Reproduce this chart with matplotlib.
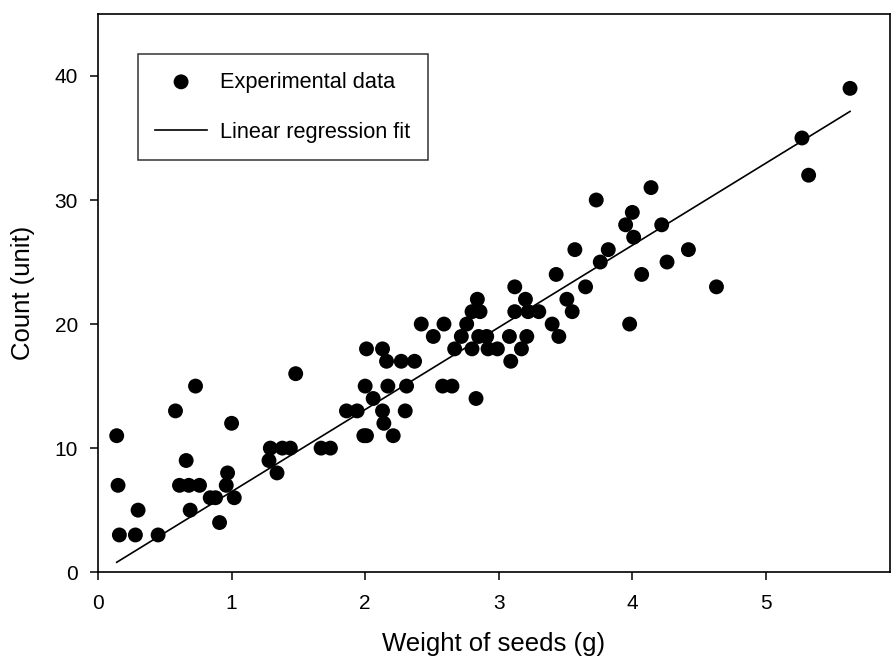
import numpy as np
import matplotlib.pyplot as plt

plt.rcParams["font.family"] = ["Liberation Sans", "DejaVu Sans"]

# seed weight (g) and count (unit)
weight = [0.16, 0.28, 0.45,
          0.91,
          0.30, 0.69,
          0.84, 0.88, 1.02,
          0.15, 0.61, 0.68, 0.76, 0.96,
          0.97, 1.34,
          0.66, 1.28,
          1.29, 1.38, 1.44, 1.67, 1.74,
          0.14, 1.99, 2.01, 2.21,
          1.00, 2.14,
          0.58, 1.86, 1.94, 2.13, 2.30,
          2.06, 2.83,
          0.73, 2.00, 2.17, 2.31, 2.58, 2.65,
          1.48,
          2.16, 2.27, 2.37, 3.09,
          2.01, 2.13, 2.67, 2.80, 2.92, 2.99, 3.17,
          2.51, 2.72, 2.85, 2.91, 3.08, 3.21, 3.45,
          2.42, 2.59, 2.76, 3.40, 3.98,
          2.80, 2.86, 3.12, 3.22, 3.30, 3.55,
          2.84, 3.20, 3.51,
          3.12, 3.65, 4.63,
          3.43, 4.07,
          3.76, 4.26,
          3.57, 3.82, 4.42,
          4.01,
          3.95, 4.22,
          4.00,
          3.73,
          4.14,
          5.32,
          5.27,
          5.63]
count = [3, 3, 3,
         4,
         5, 5,
         6, 6, 6,
         7, 7, 7, 7, 7,
         8, 8,
         9, 9,
         10, 10, 10, 10, 10,
         11, 11, 11, 11,
         12, 12,
         13, 13, 13, 13, 13,
         14, 14,
         15, 15, 15, 15, 15, 15,
         16,
         17, 17, 17, 17,
         18, 18, 18, 18, 18, 18, 18,
         19, 19, 19, 19, 19, 19, 19,
         20, 20, 20, 20, 20,
         21, 21, 21, 21, 21, 21,
         22, 22, 22,
         23, 23, 23,
         24, 24,
         25, 25,
         26, 26, 26,
         27,
         28, 28,
         29,
         30,
         31,
         32,
         35,
         39]

# fitted line as drawn in the figure
fit_slope = 6.62
fit_intercept = -0.13

x = np.array(weight)
y = np.array(count)
xfit = np.array([x.min(), x.max()])
yfit = fit_slope * xfit + fit_intercept

fig = plt.figure(figsize=(8.91, 6.63), dpi=100)
ax = fig.add_axes([0.110, 0.137, 0.889, 0.842])

ax.scatter(x, y, s=115, color="black", edgecolors="none", zorder=3,
           label="Experimental data")
ax.plot(xfit, yfit, color="black", lw=1.2, label="Linear regression fit")

ax.set_xlim(0, 5.93)
ax.set_ylim(0, 45)
ax.set_xticks([0, 1, 2, 3, 4, 5])
ax.set_yticks([0, 10, 20, 30, 40])
ax.tick_params(direction="out", length=5.5, width=1.1, labelsize=15, pad=9)
ax.tick_params(axis="x", pad=10)
for s in ax.spines.values():
    s.set_linewidth(1.2)

ax.set_xlabel("Weight of seeds (g)", fontsize=18.5, labelpad=14)
ax.set_ylabel("Count (unit)", fontsize=18.5, labelpad=14)

leg = ax.legend(loc="upper left", bbox_to_anchor=(0.0505, 0.928), fontsize=15.7,
                frameon=True, fancybox=False, edgecolor="black",
                labelspacing=1.35, borderpad=0.8, handlelength=2.35,
                handletextpad=0.62, borderaxespad=0)
leg.get_frame().set_linewidth(1.1)

fig.savefig("out.png", dpi=100)
